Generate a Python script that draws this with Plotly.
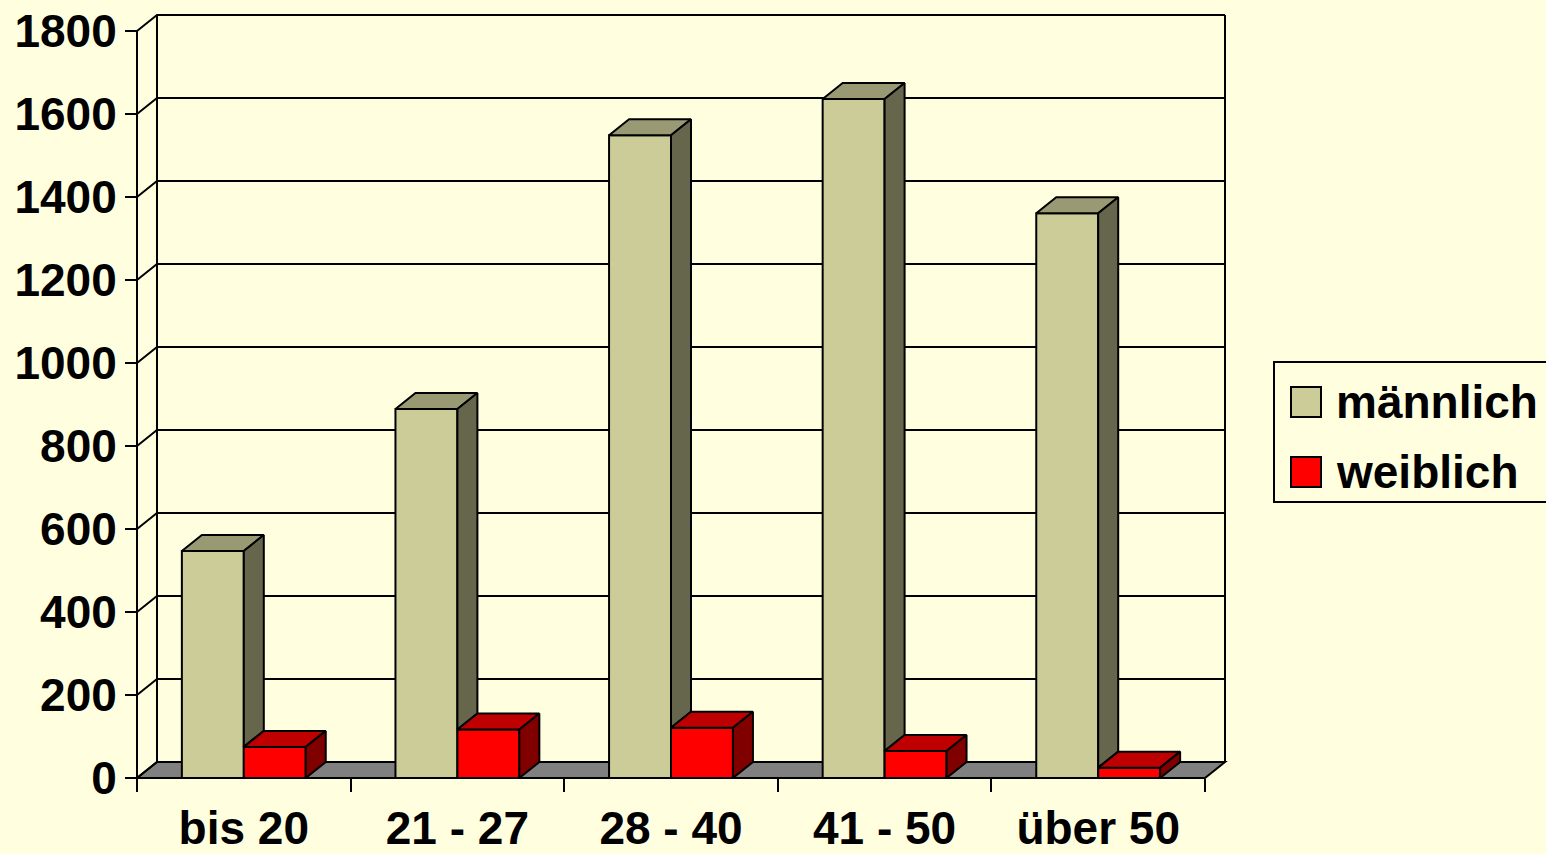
import plotly.graph_objects as go

# ---------------- data ----------------
categories = ["bis 20", "21 - 27", "28 - 40", "41 - 50", "über 50"]
series_names = ["männlich", "weiblich"]
male = [547, 889, 1549, 1636, 1361]
female = [75, 117, 121, 65, 25]
y_ticks = [0, 200, 400, 600, 800, 1000, 1200, 1400, 1600, 1800]

# ---------------- style / layout constants ----------------
W, H = 1546, 854
BG = "#FFFFE0"
MALE_COLORS = ("#CCCC99", "#999973", "#66664D")     # front, top, side
FEMALE_COLORS = ("#FF0000", "#BF0000", "#800000")
FLOOR_COLOR = "#808080"
FONT = dict(family="Liberation Sans, Arial, sans-serif", size=46, color="black", weight="bold")

FRONT_L, FRONT_R = 137, 1205          # pixel x of front axis ends
FLOOR_Y, TOP_Y = 778, 31              # pixel y of 0 and max tick on front plane
DEPTH_PX_X, DEPTH_PX_Y = 20, 16       # 3-D depth offset in pixels
ML, MR, MT, MB = 133, 315, 11, 71
BW = 0.29                             # bar width (category units)

n = len(categories)
px_per_x = (FRONT_R - FRONT_L) / n
px_per_y = (FLOOR_Y - TOP_Y) / y_ticks[-1]
DX = DEPTH_PX_X / px_per_x
DY = DEPTH_PX_Y / px_per_y
XL, XR = -0.5, n - 0.5
x_range = [XL - (FRONT_L - ML) / px_per_x, XL + (W - MR - FRONT_L) / px_per_x]
y_range = [-(H - MB - FLOOR_Y) / px_per_y, (FLOOR_Y - MT) / px_per_y]
x_axis_pos = (0 - y_range[0]) / (y_range[1] - y_range[0])
y_axis_pos = (XL - x_range[0]) / (x_range[1] - x_range[0])

plot_w = W - ML - MR
plot_h = H - MT - MB


def paper_x(px):
    return (px - ML) / plot_w


def paper_y(py):
    return (H - MB - py) / plot_h


fig = go.Figure()

# front faces as bars
fig.add_trace(go.Bar(x=list(range(n)), y=male, width=BW, offset=-BW, name=series_names[0],
                     marker=dict(color=MALE_COLORS[0], line=dict(color="black", width=2)),
                     showlegend=False))
fig.add_trace(go.Bar(x=list(range(n)), y=female, width=BW, offset=0, name=series_names[1],
                     marker=dict(color=FEMALE_COLORS[0], line=dict(color="black", width=2)),
                     showlegend=False))


def face(xs, ys, color):
    fig.add_trace(go.Scatter(x=xs + [xs[0]], y=ys + [ys[0]], mode="lines", fill="toself",
                             fillcolor=color, line=dict(color="black", width=2),
                             hoverinfo="skip", showlegend=False))


for i in range(n):
    m, f = male[i], female[i]
    # male top
    face([i - BW, i, i + DX, i - BW + DX], [m, m, m + DY, m + DY], MALE_COLORS[1])
    # male side (visible part above the female bar)
    face([i, i, i + DX, i + DX], [f, m, m + DY, f + DY], MALE_COLORS[2])
    # female top
    face([i, i + BW, i + BW + DX, i + DX], [f, f, f + DY, f + DY], FEMALE_COLORS[1])
    # female side
    face([i + BW, i + BW, i + BW + DX, i + BW + DX], [0, f, f + DY, DY], FEMALE_COLORS[2])

shapes = []
line = dict(color="black", width=2)
# floor
shapes.append(dict(type="path", xref="x", yref="y", layer="below",
                   path=f"M {XL},0 L {XR},0 L {XR + DX},{DY} L {XL + DX},{DY} Z",
                   fillcolor=FLOOR_COLOR, line=line))
# gridlines on left wall and back wall
for v in y_ticks:
    shapes.append(dict(type="path", xref="x", yref="y", layer="below",
                       path=f"M {XL},{v} L {XL + DX},{v + DY} L {XR + DX},{v + DY}",
                       line=line))
# wall edges
top = y_ticks[-1]
shapes.append(dict(type="line", xref="x", yref="y", layer="below",
                   x0=XL + DX, x1=XL + DX, y0=DY, y1=top + DY, line=line))
shapes.append(dict(type="line", xref="x", yref="y", layer="below",
                   x0=XR + DX, x1=XR + DX, y0=DY, y1=top + DY, line=line))
shapes.append(dict(type="line", xref="x", yref="y", layer="below",
                   x0=XL, x1=XL, y0=0, y1=top, line=line))

# legend (custom, large symbols)
LEG_L, LEG_T, LEG_B = 1274, 362, 502
shapes.append(dict(type="rect", xref="paper", yref="paper",
                   x0=paper_x(LEG_L), x1=paper_x(W + 40), y0=paper_y(LEG_B), y1=paper_y(LEG_T),
                   line=line, fillcolor=BG))
legend_items = [(series_names[0], MALE_COLORS[0], 402), (series_names[1], FEMALE_COLORS[0], 472)]
annotations = []
for name, col, cy in legend_items:
    shapes.append(dict(type="rect", xref="paper", yref="paper",
                       x0=paper_x(1291), x1=paper_x(1321), y0=paper_y(cy + 15), y1=paper_y(cy - 15),
                       line=line, fillcolor=col))
    annotations.append(dict(xref="paper", yref="paper", x=paper_x(1334), y=paper_y(cy),
                            xanchor="left", yanchor="middle", text=name, showarrow=False,
                            font=FONT))

fig.update_layout(
    width=W, height=H,
    margin=dict(l=ML, r=MR, t=MT, b=MB, pad=0, autoexpand=False),
    paper_bgcolor=BG, plot_bgcolor=BG,
    barmode="overlay",
    showlegend=False,
    shapes=shapes,
    annotations=annotations,
    xaxis=dict(range=x_range, anchor="free", position=x_axis_pos, automargin=False,
               tickmode="array", tickvals=list(range(n)), ticktext=categories,
               ticks="", showgrid=False, zeroline=False, showline=False,
               tickfont=FONT, ticklabelstandoff=19,
               minor=dict(tickmode="array", tickvals=[k - 0.5 for k in range(n + 1)],
                          ticks="outside", ticklen=13, tickwidth=2, tickcolor="black",
                          showgrid=False)),
    yaxis=dict(range=y_range, anchor="free", position=y_axis_pos, automargin=False,
               tickmode="array", tickvals=y_ticks, ticktext=[str(v) for v in y_ticks],
               ticks="outside", ticklen=12, tickwidth=2, tickcolor="black",
               showgrid=False, zeroline=False, showline=False,
               tickfont=FONT, ticklabelstandoff=-1),
)

fig.write_html("out.html", config={"displayModeBar": False},
               post_script="document.body.style.margin='0';document.body.style.overflow='hidden';")
